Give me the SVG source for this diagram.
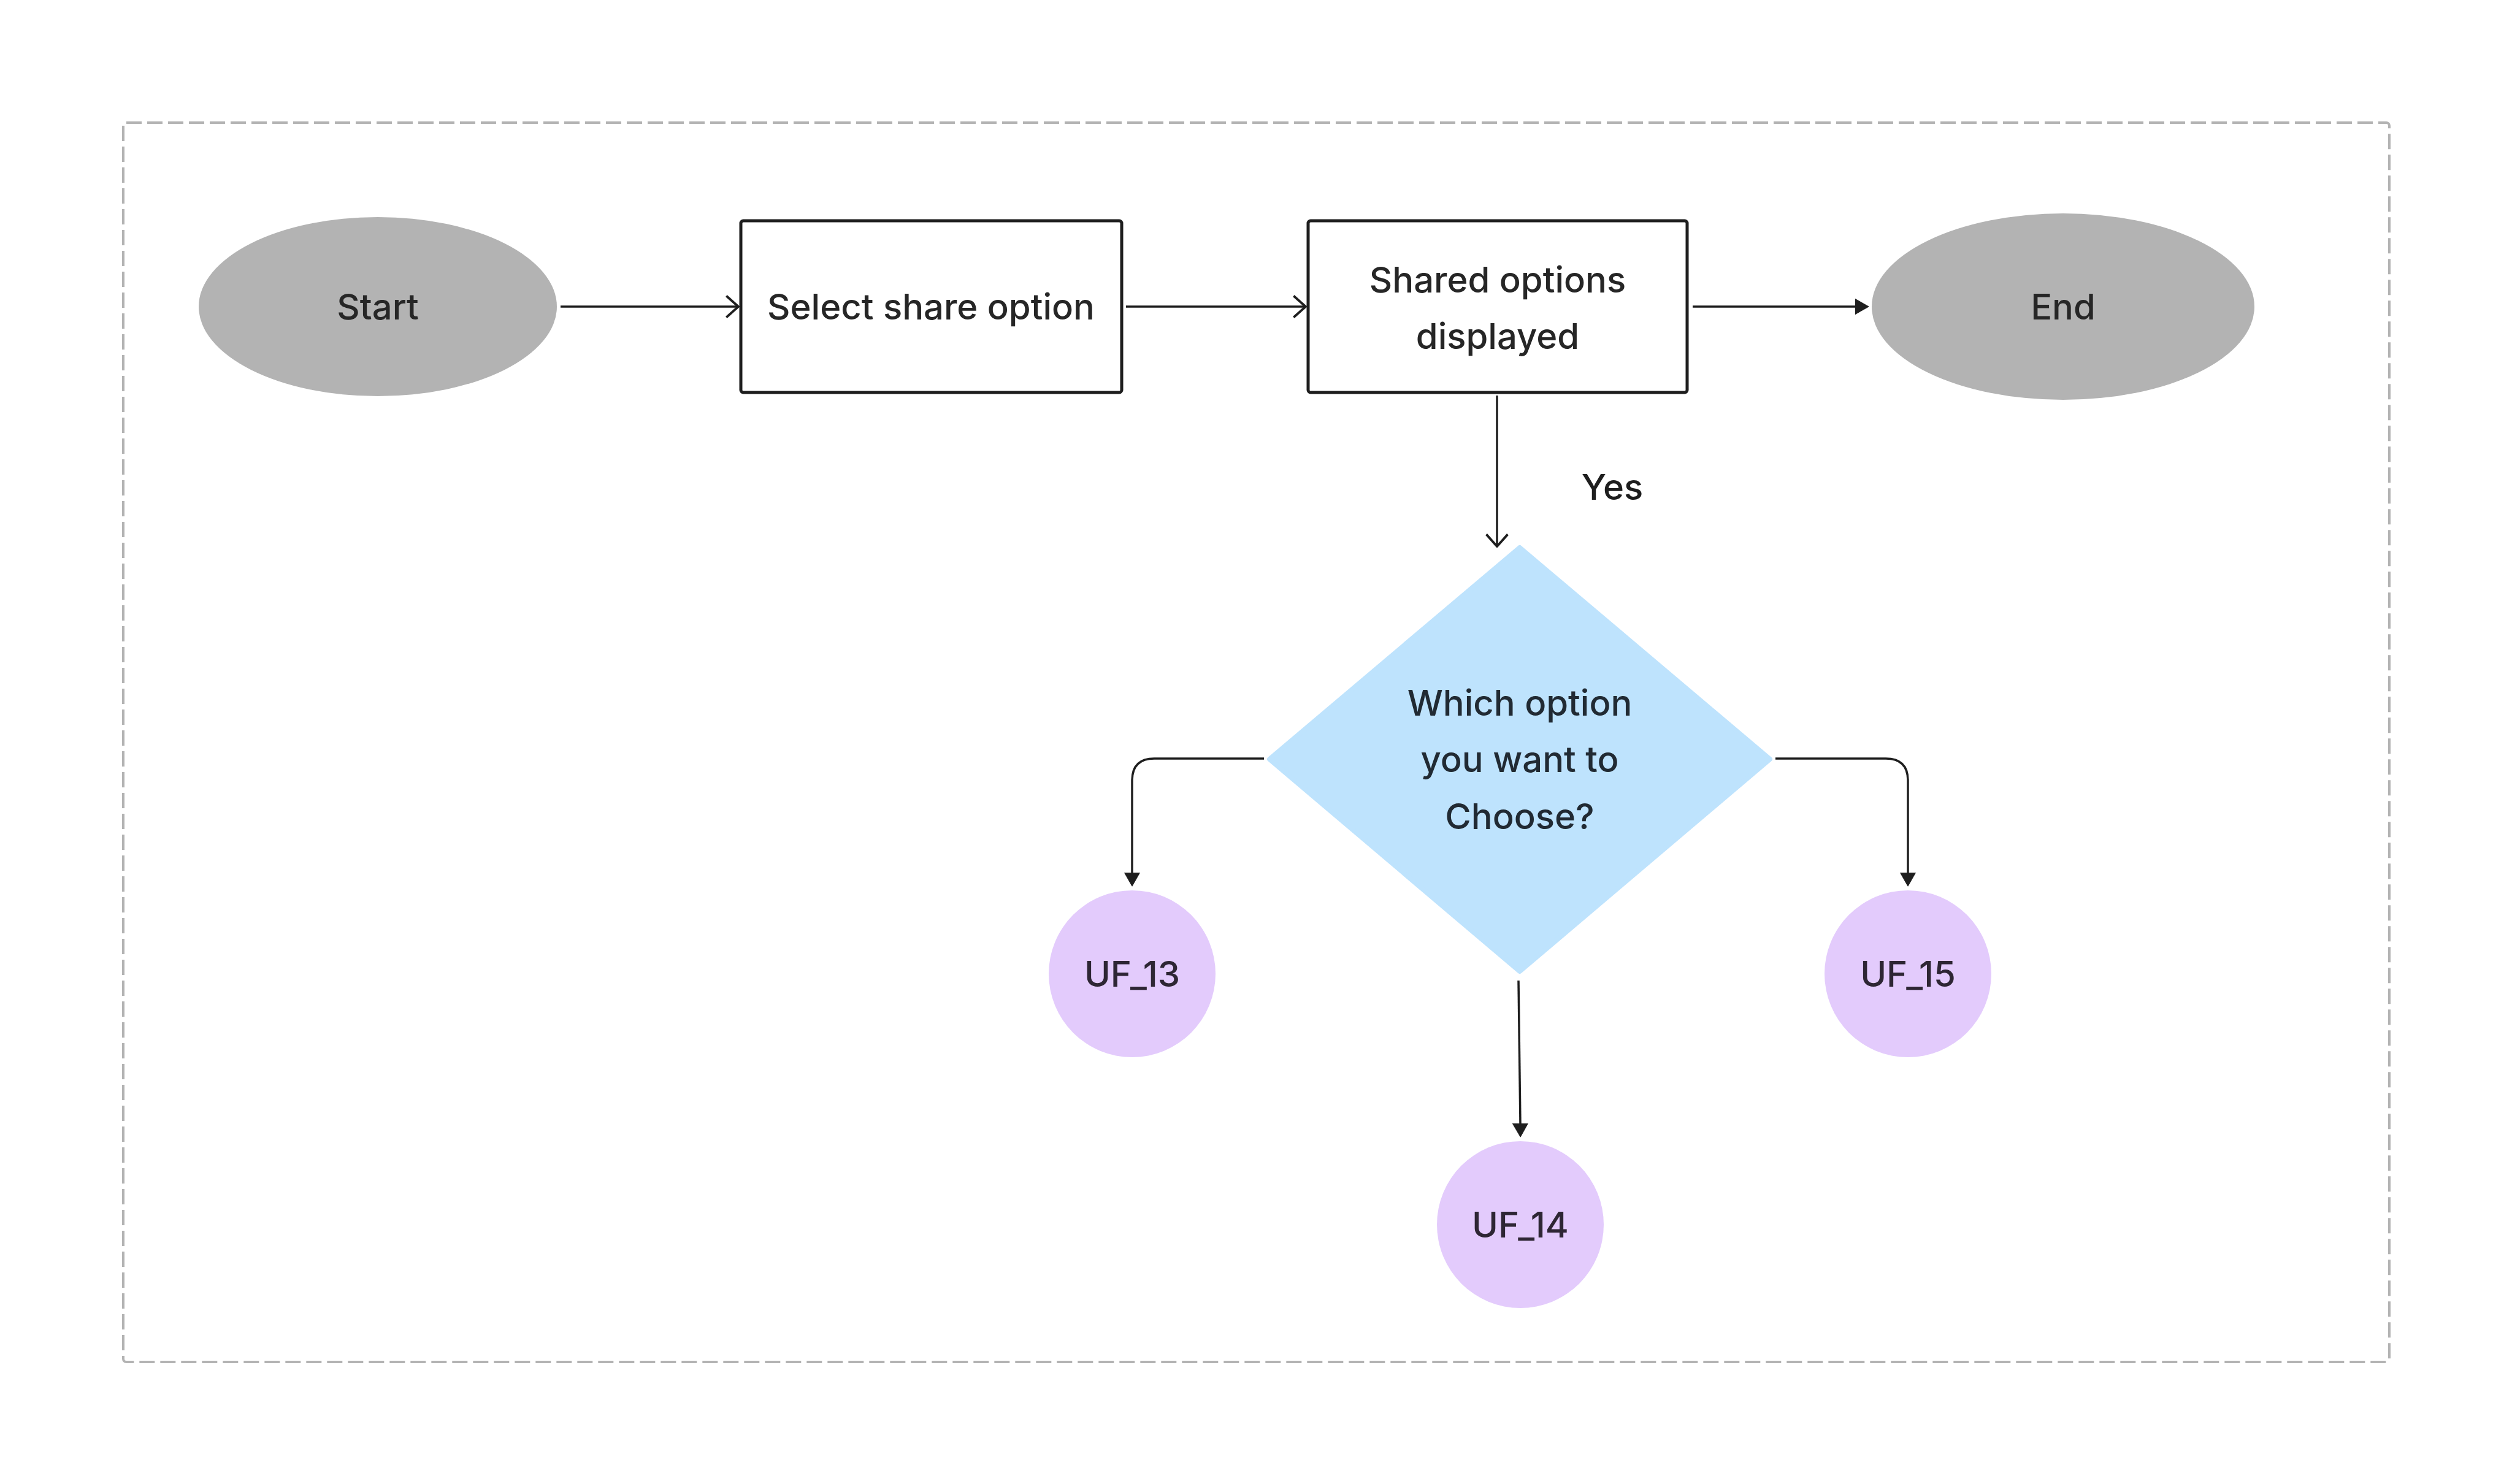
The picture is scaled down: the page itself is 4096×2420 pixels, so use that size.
<svg xmlns="http://www.w3.org/2000/svg" width="4096" height="2420" viewBox="0 0 4096 2420">
<style>
.t{font-family:Inter,"Liberation Sans",sans-serif;font-size:58px;font-weight:500;fill:#262626;text-anchor:middle}
.term{fill:#b3b3b3}
.proc{fill:#ffffff;stroke:#1e1e1e;stroke-width:5}
.ref{fill:#e3cbfc}
.dec{fill:#bee3fd;stroke:#bee3fd;stroke-width:8;stroke-linejoin:round}
.c{fill:none;stroke:#1e1e1e;stroke-width:3.5}
</style>
<defs>
<marker id="open" markerUnits="userSpaceOnUse" markerWidth="24" markerHeight="40" viewBox="-2 -18 22 36" refX="18" refY="0" orient="auto">
<path d="M0,-16 L18,0 L0,16" fill="none" stroke="#1e1e1e" stroke-width="3.5" stroke-linejoin="miter"/>
</marker>
<marker id="tri" markerUnits="userSpaceOnUse" markerWidth="24" markerHeight="28" viewBox="0 -13 23 26" refX="1" refY="0" orient="auto">
<path d="M0,-12 L21,0 L0,12 Z" fill="#1e1e1e" stroke="#1e1e1e" stroke-width="1" stroke-linejoin="round"/>
</marker>
</defs>
<rect x="0" y="0" width="4096" height="2420" fill="#ffffff"/>
<rect id="frame" x="201" y="200" width="3695" height="2021" rx="5" fill="none" stroke="#b3b3b3" stroke-width="4" stroke-dasharray="25 9"/>
<g id="connectors">
<path class="c" d="M914,500 L1204,500" marker-end="url(#open)"/>
<path class="c" d="M1836,500 L2129,500" marker-end="url(#open)"/>
<path class="c" d="M2760,500 L3026,500" marker-end="url(#tri)"/>
<path class="c" d="M2441,645 L2441,891" marker-end="url(#open)"/>
<path class="c" d="M2061,1237 L1882,1237 Q1846,1237 1846,1273 L1846,1424" marker-end="url(#tri)"/>
<path class="c" d="M2895,1237 L3075,1237 Q3111,1237 3111,1273 L3111,1424" marker-end="url(#tri)"/>
<path class="c" d="M2476,1599 L2479,1833" marker-end="url(#tri)"/>
<text class="t" x="2629" y="815" style="fill:#1e1e1e">Yes</text>
</g>
<g id="start">
<ellipse class="term" cx="616" cy="500" rx="292" ry="146"/>
<text class="t" x="616" y="521">Start</text>
</g>
<g id="select">
<rect class="proc" x="1208" y="360" width="621" height="280" rx="4"/>
<text class="t" x="1518" y="521">Select share option</text>
</g>
<g id="shared">
<rect class="proc" x="2133" y="360" width="618" height="280" rx="4"/>
<text class="t" x="2442" y="477">Shared options</text>
<text class="t" x="2442" y="569">displayed</text>
</g>
<g id="end">
<ellipse class="term" cx="3364" cy="500" rx="312" ry="152"/>
<text class="t" x="3364" y="521">End</text>
</g>
<g id="decision">
<polygon class="dec" points="2478,893 2886,1238 2478,1584 2070,1238"/>
<text class="t" x="2478" y="1167" style="fill:#212a33">Which option</text>
<text class="t" x="2478" y="1259" style="fill:#212a33">you want to</text>
<text class="t" x="2478" y="1352" style="fill:#212a33">Choose?</text>
</g>
<g id="uf13">
<circle class="ref" cx="1846" cy="1588" r="136"/>
<text class="t" x="1846" y="1609" style="fill:#2e2634">UF_13</text>
</g>
<g id="uf15">
<circle class="ref" cx="3111" cy="1588" r="136"/>
<text class="t" x="3111" y="1609" style="fill:#2e2634">UF_15</text>
</g>
<g id="uf14">
<circle class="ref" cx="2479" cy="1997" r="136"/>
<text class="t" x="2479" y="2018" style="fill:#2e2634">UF_14</text>
</g>
</svg>
